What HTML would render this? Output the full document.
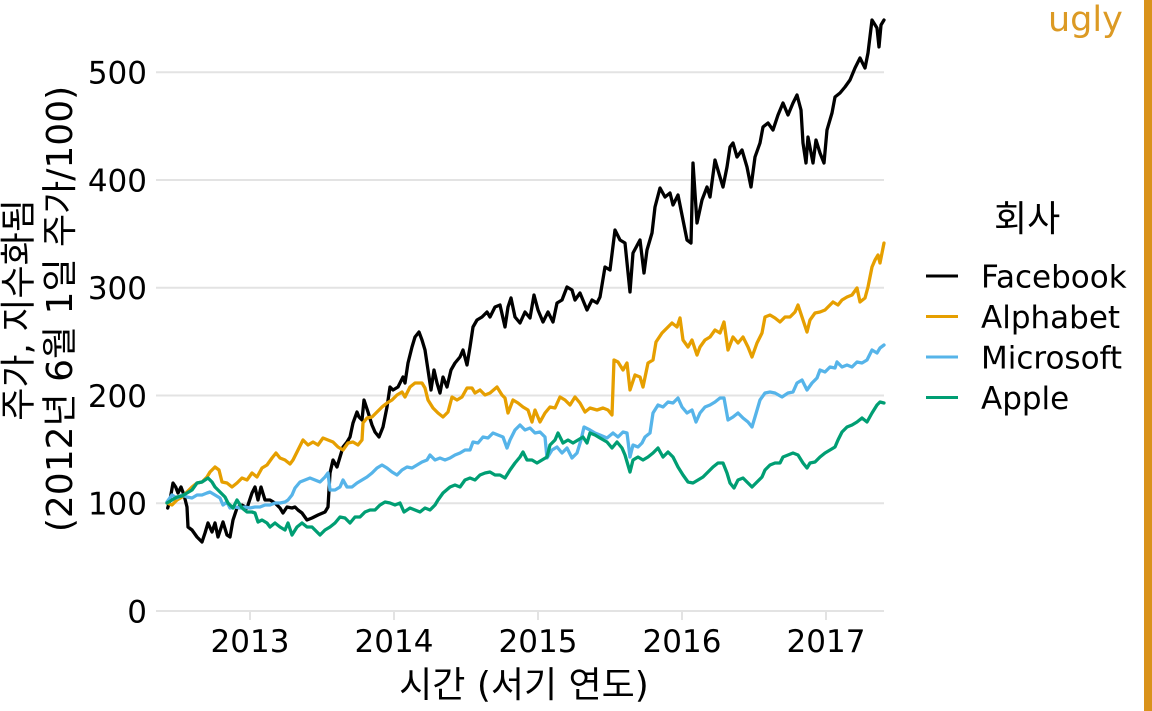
<!DOCTYPE html>
<html>
<head>
<meta charset="utf-8">
<style>
  html, body { margin: 0; padding: 0; background: #ffffff; }
  svg { display: block; }
  .tick { font-family: "DejaVu Sans", "Liberation Sans", sans-serif; font-size: 31px; fill: #000; }
  .ko { font-family: "DejaVu Sans", "Noto Sans CJK KR", "NanumGothic", sans-serif; font-size: 36px; fill: #000; }
  .series { fill: none; stroke-width: 3.3; stroke-linejoin: round; stroke-linecap: round; }
</style>
</head>
<body>
<svg width="1152" height="711" viewBox="0 0 1152 711" xmlns="http://www.w3.org/2000/svg">
  <rect x="0" y="0" width="1152" height="711" fill="#ffffff"/>

  <!-- gridlines -->
  <g stroke="#e3e3e3" stroke-width="2">
    <line x1="156" y1="611" x2="884" y2="611"/>
    <line x1="156" y1="503.3" x2="884" y2="503.3"/>
    <line x1="156" y1="395.5" x2="884" y2="395.5"/>
    <line x1="156" y1="287.8" x2="884" y2="287.8"/>
    <line x1="156" y1="180" x2="884" y2="180"/>
    <line x1="156" y1="72.3" x2="884" y2="72.3"/>
    <!-- x ticks -->
    <line x1="250" y1="612" x2="250" y2="620"/>
    <line x1="394" y1="612" x2="394" y2="620"/>
    <line x1="538" y1="612" x2="538" y2="620"/>
    <line x1="682" y1="612" x2="682" y2="620"/>
    <line x1="826" y1="612" x2="826" y2="620"/>
  </g>

  <!-- y tick labels -->
  <g class="tick" text-anchor="end">
    <text x="147" y="622.3">0</text>
    <text x="147" y="514.6">100</text>
    <text x="147" y="406.8">200</text>
    <text x="147" y="299.1">300</text>
    <text x="147" y="191.3">400</text>
    <text x="147" y="83.6">500</text>
  </g>

  <!-- x tick labels -->
  <g class="tick" text-anchor="middle">
    <text x="250" y="652">2013</text>
    <text x="394" y="652">2014</text>
    <text x="538" y="652">2015</text>
    <text x="682" y="652">2016</text>
    <text x="826" y="652">2017</text>
  </g>

  <!-- axis titles -->
  <text class="ko" x="524" y="697" text-anchor="middle">시간 (서기 연도)</text>
  <text class="ko" transform="translate(30.5,310) rotate(-90)" text-anchor="middle">주가, 지수화됨</text>
  <text class="ko" transform="translate(72,309) rotate(-90)" text-anchor="middle">(2012년 6월 1일 주가/100)</text>

  <!-- series -->
  <polyline class="series" stroke="#000000" points="167.7,508 170,500 173,483 175.7,487 178,493 181,487 184,495 187,507 188,527 192,530 197,537 202,542 205,533 208,523 212,532 215,523 218,537 223,522 227,535 230,537 233,520 237,508 242,505 247,508 252,493 255,487 258,500 261,487 265,500 270,500 275,503 280,508 283,513 287,507 292,508 295,507 298,510 302,513 307,520 312,518 318,515 325,512 328,507 330,473 333,460 337,467 340,457 343,447 347,442 350,437 353,423 357,412 359,417 362,420 364,400 368,412 372,425 375,432 379,437 383,427 387,407 390,387 393,390 398,387 403,377 405,383 408,363 412,347 415,337 419,332 422,340 425,350 428,370 431,390 434,370 437,383 440,393 443,377 447,387 451,370 455,363 460,357 463,350 467,365 470,347 473,327 477,320 482,317 487,312 490,317 495,307 500,305 505,327 508,307 511,298 515,317 520,323 525,312 530,318 534,295 538,310 543,322 548,312 553,322 557,303 562,300 567,287 572,290 575,300 580,293 587,310 592,300 597,303 600,297 605,267 610,270 615,230 620,240 625,243 630,292 633,253 640,240 644,273 647,250 652,233 655,207 660,188 665,197 670,193 673,205 678,195 683,220 687,240 691,243 693,163 697,223 702,200 707,187 710,197 715,160 720,177 723,187 727,167 730,147 733,143 737,157 742,150 747,167 751,187 755,157 760,143 763,127 768,123 773,130 778,115 783,103 788,115 793,103 797,95 801,110 803,143 806,163 808,137 813,163 816,140 820,153 824,163 827,130 832,113 835,97 840,93 845,87 850,80 855,68 860,58 865,68 868,53 872,20 877,28 879,47 881,25 884,20"/>

  <polyline class="series" stroke="#E69F00" points="167,503 172,505 177,500 182,497 187,492 192,487 197,483 202,482 207,477 210,472 215,467 219,470 222,482 227,483 232,487 237,483 242,478 247,480 252,473 257,477 262,468 267,465 272,458 276,453 280,458 285,460 290,464 293,460 298,450 303,440 308,445 313,442 318,445 323,438 328,440 333,442 338,447 343,450 348,443 353,442 358,445 362,440 363,423 367,418 372,417 377,412 382,407 387,403 392,400 397,395 402,392 405,397 410,387 415,383 422,383 425,388 428,400 433,408 438,413 443,417 448,412 452,397 457,400 462,397 467,388 472,388 475,393 480,390 485,395 490,393 497,387 502,395 505,398 508,413 513,400 518,403 523,407 528,410 532,422 535,410 540,422 545,413 550,407 555,408 560,397 565,400 570,405 575,397 580,403 585,412 590,408 597,410 603,408 608,410 612,415 614,360 618,362 623,370 627,363 630,390 635,375 640,377 643,387 648,363 653,360 656,342 662,333 667,328 672,323 677,327 680,318 683,340 688,347 692,340 697,355 700,347 705,340 710,337 715,330 720,333 724,322 728,350 733,337 738,343 743,337 748,347 752,357 757,343 762,333 765,317 770,315 775,318 780,322 785,317 790,317 795,312 798,305 803,320 807,332 810,320 815,313 820,312 825,310 830,305 833,302 838,305 842,300 847,297 852,295 857,288 860,302 865,298 868,287 872,267 875,260 878,255 880,263 884,243"/>

  <polyline class="series" stroke="#56B4E9" points="167,502 172,495 177,498 182,495 187,497 192,498 197,495 202,495 207,493 210,492 215,495 220,498 223,505 227,502 230,508 235,507 240,508 245,507 250,508 255,507 260,507 265,505 270,505 275,503 280,503 285,502 288,500 292,495 295,488 300,482 305,480 310,478 315,480 320,482 325,477 328,473 330,490 335,490 340,487 343,480 347,487 352,487 357,483 362,480 367,477 372,473 377,468 382,465 387,468 392,472 397,475 402,470 407,467 412,468 417,465 422,462 427,460 430,455 435,460 440,458 445,460 450,458 455,455 460,453 465,450 470,450 473,442 478,443 483,437 488,438 493,433 498,435 503,437 507,448 510,440 515,430 520,425 525,430 530,428 535,433 540,432 545,437 547,458 552,450 557,447 562,453 567,448 572,458 577,453 581,440 584,427 590,430 595,433 600,435 607,438 613,433 618,437 623,432 627,433 630,457 633,445 638,447 642,443 645,437 650,433 653,413 658,405 663,407 668,402 673,403 678,398 682,407 687,413 692,410 696,422 700,413 705,407 710,405 715,402 720,398 724,398 728,420 733,417 738,413 743,418 748,422 752,427 755,417 760,400 765,393 770,392 775,393 782,397 788,393 793,392 797,383 802,380 807,390 812,383 817,378 820,370 825,372 830,367 835,368 837,362 842,367 847,365 852,367 857,362 862,363 867,360 872,350 877,353 880,348 884,345"/>

  <polyline class="series" stroke="#009E73" points="167,503 172,500 177,497 182,496 187,493 192,490 197,483 202,482 208,478 212,482 215,487 220,492 225,497 228,503 233,508 237,500 242,508 247,512 252,512 255,513 258,522 262,520 267,523 270,527 275,523 280,527 285,530 288,523 292,535 297,527 302,523 307,527 312,527 317,532 320,535 325,530 330,527 335,523 340,517 345,518 350,523 355,517 360,517 365,512 370,510 375,510 380,505 385,502 390,503 395,505 400,503 404,512 410,508 415,510 420,512 425,508 430,510 435,505 438,500 443,493 450,487 455,485 460,487 465,480 470,478 475,480 480,475 485,473 490,472 495,475 500,475 505,478 510,470 515,463 520,457 523,452 527,460 532,460 537,463 542,460 547,457 550,445 555,440 558,433 563,443 568,440 573,443 578,440 583,437 587,443 590,433 595,435 600,438 607,442 612,448 617,442 622,448 625,455 630,472 633,460 638,457 643,460 648,457 653,453 658,448 663,457 668,452 673,457 678,467 683,475 688,482 693,483 698,480 703,477 708,472 713,467 718,463 723,463 727,473 730,483 734,488 738,480 743,478 748,483 752,487 757,482 762,477 765,470 770,465 775,463 780,463 783,457 788,455 793,453 798,455 803,463 807,468 810,463 815,462 820,457 825,453 830,450 835,447 838,440 842,432 847,427 852,425 857,422 862,418 867,422 872,413 877,405 880,402 884,403"/>

  <!-- legend -->
  <text class="ko" x="994" y="231">회사</text>
  <g stroke-width="3">
    <line x1="926" y1="276" x2="958" y2="276" stroke="#000000"/>
    <line x1="926" y1="316.5" x2="958" y2="316.5" stroke="#E69F00"/>
    <line x1="926" y1="357" x2="958" y2="357" stroke="#56B4E9"/>
    <line x1="926" y1="397.5" x2="958" y2="397.5" stroke="#009E73"/>
  </g>
  <g class="tick">
    <text x="981" y="287.3">Facebook</text>
    <text x="981" y="327.8">Alphabet</text>
    <text x="981" y="368.3">Microsoft</text>
    <text x="981" y="408.8">Apple</text>
  </g>

  <!-- ugly stamp -->
  <text x="1048" y="31" font-family="DejaVu Sans, Liberation Sans, sans-serif" font-size="35" fill="#DC9A24">ugly</text>
  <rect x="1144" y="0" width="8" height="711" fill="#D9921A"/>
</svg>
</body>
</html>
